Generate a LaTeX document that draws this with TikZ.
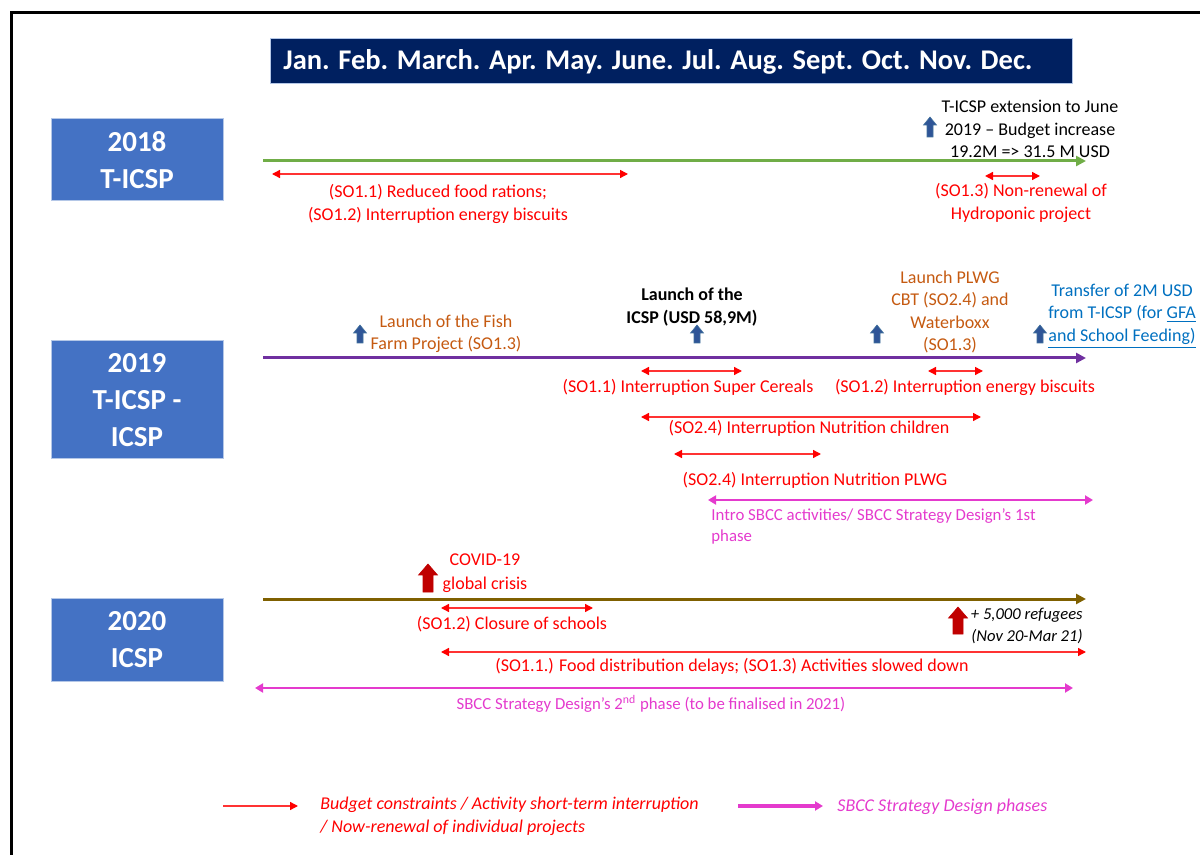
\documentclass[tikz,border=0pt]{standalone}
\usepackage{fontspec}
\setmainfont{Carlito}
\usetikzlibrary{arrows.meta}
\definecolor{navy}{HTML}{002060}
\definecolor{yearblue}{HTML}{4472C4}
\definecolor{yearedge}{HTML}{B4C7E7}
\definecolor{tlgreen}{HTML}{70AD47}
\definecolor{tlpurple}{HTML}{7030A0}
\definecolor{tlolive}{HTML}{7F6000}
\definecolor{orng}{HTML}{C55A11}
\definecolor{linkblue}{HTML}{0070C0}
\definecolor{mag}{RGB}{228,58,205}
\definecolor{darkred}{HTML}{C00000}
\definecolor{arrblue}{HTML}{2F5597}
\definecolor{arredge}{HTML}{41719C}
\definecolor{redline}{HTML}{FF3333}
\newcommand{\blkup}[7]{%
  \filldraw[#1] ({#2-#5/2},#3) -- ({#2-#5/2},{#3-#4+#7}) -- ({#2-#6/2},{#3-#4+#7}) -- (#2,{#3-#4}) -- ({#2+#6/2},{#3-#4+#7}) -- ({#2+#5/2},{#3-#4+#7}) -- ({#2+#5/2},#3) -- cycle;}
\begin{document}
\begin{tikzpicture}[x=0.5pt,y=-0.5pt,
  yearbox/.style={fill=yearblue,draw=yearedge,line width=0.5pt,minimum width=86pt,inner sep=0pt,text=white,font=\fontsize{14.5}{18.5}\selectfont\bfseries,align=center},
  txt/.style={inner sep=0pt,align=center,font=\fontsize{9}{11.25}\selectfont},
  redtxt/.style={inner sep=0pt,align=center,text=red,font=\fontsize{9}{11.75}\selectfont},
  smalltxt/.style={inner sep=0pt,align=left,text=mag,font=\fontsize{8.4}{10.5}\selectfont},
  legtxt/.style={inner sep=0pt,align=left,font=\fontsize{9}{11.25}\selectfont\itshape},
  timeline/.style={line width=1.5pt,-{Triangle[length=5pt,width=5pt]}},
  redarr/.style={redline,line width=0.7pt,{Triangle[length=4pt,width=4pt,color=red]}-{Triangle[length=4pt,width=4pt,color=red]}},
  redone/.style={redline,line width=0.7pt,-{Triangle[length=4pt,width=4pt,color=red]}},
  magarr/.style={mag,line width=1.4pt,{Triangle[length=4pt,width=4.5pt]}-{Triangle[length=4pt,width=4.5pt]}},
  magone/.style={mag,line width=1.6pt,-{Triangle[length=4pt,width=4.5pt]}},
  bluearr/.style={fill=arrblue,draw=arredge,line width=0.3pt},
  redblk/.style={fill=darkred,draw=darkred,line width=0.3pt},
]
\useasboundingbox (0,0) rectangle (1200,855);
% frame
\draw[line width=1.5pt] (11,855) -- (11,13) -- (1200,13);
% header
\node[fill=navy,draw=yearedge,line width=0.4pt,minimum width=401pt,minimum height=22.5pt,inner sep=0pt] (hdr) at (671,60.5) {};
\node[anchor=west,inner sep=0pt,text=white,font=\fontsize{14.25}{17}\selectfont\bfseries] (months) at (283,62) {Jan. Feb. March. Apr. May. June. Jul. Aug. Sept. Oct. Nov. Dec.};
% year boxes
\node[yearbox,minimum height=41pt] (y2018) at (137,160) {2018\\T-ICSP};
\node[yearbox,minimum height=59pt] (y2019) at (137,400) {2019\\T-ICSP -\\ICSP};
\node[yearbox,minimum height=41.5pt] (y2020) at (137,640) {2020\\ICSP};

% ---------- 2018 ----------
\coordinate (g0) at (263,161); \coordinate (g1) at (1086,161);
\draw[timeline,tlgreen] (g0) -- (g1);
\coordinate (a1s) at (272,174); \coordinate (a1e) at (628,174);
\draw[redarr] (a1s) -- (a1e);
\node[redtxt] (t1) at (438,204) {(SO1.1) Reduced food rations;\\(SO1.2) Interruption energy biscuits};
\blkup{bluearr}{930}{137}{20}{6}{13}{8}
\node[txt] (ext) at (1030,129) {T-ICSP extension to June\\2019 – Budget increase\\19.2M => 31.5 M USD};
\coordinate (a2s) at (985,176); \coordinate (a2e) at (1040,176);
\draw[redarr] (a2s) -- (a2e);
\node[redtxt] (t2) at (1021,203) {(SO1.3) Non-renewal of\\Hydroponic project};

% ---------- 2019 ----------
\coordinate (p0) at (263,358); \coordinate (p1) at (1086,358);
\draw[timeline,tlpurple] (p0) -- (p1);
\blkup{bluearr}{360}{343}{18}{6}{13}{8}
\node[txt,text=orng] (fish) at (446,334) {Launch of the Fish\\Farm Project (SO1.3)};
\node[txt,font=\fontsize{9}{11.25}\selectfont\bfseries] (icsp) at (692,307) {Launch of the\\ICSP (USD 58,9M)};
\blkup{bluearr}{697}{343}{18}{6}{13}{8}
\blkup{bluearr}{877}{343}{18}{6}{13}{8}
\node[txt,text=orng] (plwg) at (950,312) {Launch PLWG\\CBT (SO2.4) and\\Waterboxx\\(SO1.3)};
\blkup{bluearr}{1040}{343}{18}{6}{13}{8}
\node[txt,text=linkblue] (transfer) at (1122,316) {Transfer of 2M USD\\from T-ICSP (for \underline{GFA}\\\underline{and School Feeding)}};
\coordinate (b1s) at (641,371); \coordinate (b1e) at (742,371);
\draw[redarr] (b1s) -- (b1e);
\node[redtxt] (sc) at (688,387) {(SO1.1) Interruption Super Cereals};
\coordinate (b2s) at (928,371); \coordinate (b2e) at (983,371);
\draw[redarr] (b2s) -- (b2e);
\node[redtxt] (eb) at (965,387) {(SO1.2) Interruption energy biscuits};
\coordinate (b3s) at (641,417); \coordinate (b3e) at (981,417);
\draw[redarr] (b3s) -- (b3e);
\node[redtxt] (nc) at (809,428) {(SO2.4) Interruption Nutrition children};
\coordinate (b4s) at (674,454); \coordinate (b4e) at (821,454);
\draw[redarr] (b4s) -- (b4e);
\node[redtxt] (np) at (815,480) {(SO2.4) Interruption Nutrition PLWG};
\coordinate (m1s) at (708,500); \coordinate (m1e) at (1093,500);
\draw[magarr] (m1s) -- (m1e);
\node[smalltxt,anchor=north west] (sb1) at (711,508) {Intro SBCC activities/ SBCC Strategy Design’s 1st\\phase};

% ---------- 2020 ----------
\coordinate (o0) at (263,599); \coordinate (o1) at (1086,599);
\draw[timeline,tlolive] (o0) -- (o1);
\blkup{redblk}{428}{592}{28}{10}{19}{11}
\node[redtxt] (covid) at (485,573) {COVID-19\\global crisis};
\coordinate (c1s) at (441,608); \coordinate (c1e) at (593,608);
\draw[redarr] (c1s) -- (c1e);
\node[redtxt] (cs) at (512,624) {(SO1.2) Closure of schools};
\blkup{redblk}{958}{634}{27}{10}{19}{11}
\node[txt,align=right,anchor=east,font=\fontsize{8.3}{11}\selectfont\itshape] (ref) at (1083,626) {+ 5,000 refugees\\(Nov 20-Mar 21)};
\coordinate (c2s) at (441,652); \coordinate (c2e) at (1086,652);
\draw[redarr] (c2s) -- (c2e);
\node[redtxt] (fd) at (732,666) {(SO1.1.) Food distribution delays; (SO1.3) Activities slowed down};
\coordinate (m2s) at (255,688); \coordinate (m2e) at (1073,688);
\draw[magarr] (m2s) -- (m2e);
\node[smalltxt] (sb2) at (651,704) {SBCC Strategy Design’s 2\textsuperscript{nd} phase (to be finalised in 2021)};

% ---------- legend ----------
\coordinate (l1s) at (223,806); \coordinate (l1e) at (298,806);
\draw[redone] (l1s) -- (l1e);
\node[legtxt,text=red,anchor=north west] (leg1) at (320,797) {Budget constraints / Activity short-term interruption\\/ Now-renewal of individual projects};
\coordinate (l2s) at (738,806); \coordinate (l2e) at (823,806);
\draw[magone] (l2s) -- (l2e);
\node[legtxt,text=mag,anchor=west] (leg2) at (837,807) {SBCC Strategy Design phases};
\end{tikzpicture}
\end{document}
